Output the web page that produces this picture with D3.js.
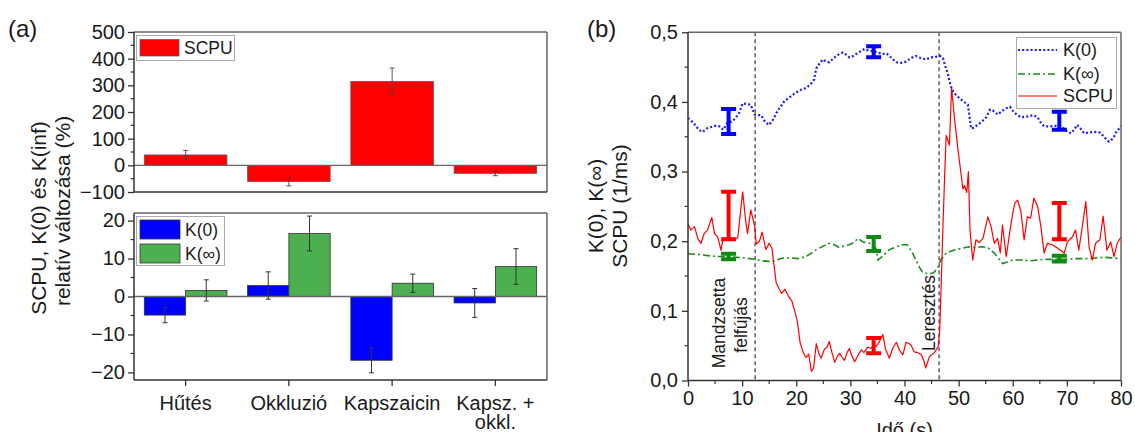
<!DOCTYPE html>
<html>
<head>
<meta charset="utf-8">
<script src="https://cdn.jsdelivr.net/npm/d3@7"></script>
<style>
  body { margin: 0; background: #fff; }
  svg { display: block; }
  text { font-family: "Liberation Sans", Arial, sans-serif; fill: #1a1a1a; }
</style>
</head>
<body>
<svg id="chart" width="1135" height="432"></svg>
<script>
// ---------- Panel (a): relative change per intervention ----------
const categories = ["Hűtés", "Okkluzió", "Kapszaicin", "Kapsz. + okkl."];
const categoryLines = [["Hűtés"], ["Okkluzió"], ["Kapszaicin"], ["Kapsz. +", "okkl."]];
const scpuChange = [39, -61, 315, -30];
const scpuErr = [17, 16, 50, 9];
const k0Change = [-4.9, 2.9, -16.8, -1.7];
const k0Err = [2.0, 3.6, 3.3, 3.8];
const kinfChange = [1.6, 16.6, 3.5, 7.9];
const kinfErr = [2.8, 4.6, 2.4, 4.7];
const topTicks = [-100, 0, 100, 200, 300, 400, 500];
const topMinor = [-50, 50, 150, 250, 350, 450];
const bottomTicks = [-20, -10, 0, 10, 20];
const bottomMinor = [-15, -5, 5, 15];

// ---------- Panel (b): time course ----------
const timeTicks = [0, 10, 20, 30, 40, 50, 60, 70, 80];
const timeMinor = [5, 15, 25, 35, 45, 55, 65, 75];
const rateTicks = [0, 0.1, 0.2, 0.3, 0.4, 0.5];
const rateMinor = [0.05, 0.15, 0.25, 0.35, 0.45];
const eventTimes = [12.4, 46.4];

const k0Series = [[0,0.377],[1,0.37],[2,0.36],[2.7,0.357],[3.5,0.362],[4.3,0.364],[5.2,0.366],[5.8,0.365],[6.5,0.36],[7.3,0.37],[8.2,0.372],[8.9,0.378],[9.5,0.385],[10.1,0.398],[10.8,0.397],[11.6,0.396],[12.3,0.382],[13.0,0.381],[13.5,0.381],[14.2,0.372],[14.9,0.367],[15.5,0.372],[15.9,0.377],[16.4,0.385],[16.9,0.391],[17.8,0.401],[18.5,0.405],[19.3,0.41],[20.3,0.415],[21.0,0.418],[21.8,0.42],[22.6,0.425],[23.3,0.432],[23.7,0.448],[24.3,0.455],[24.9,0.461],[25.5,0.458],[26.1,0.457],[26.8,0.462],[27.4,0.466],[28.0,0.469],[28.6,0.471],[29.2,0.468],[29.8,0.464],[30.5,0.466],[31.1,0.469],[31.9,0.473],[32.6,0.476],[33.3,0.474],[34.1,0.473],[35.0,0.471],[36.0,0.469],[36.6,0.47],[37.2,0.466],[37.9,0.461],[38.5,0.457],[39.5,0.456],[40.3,0.458],[41.2,0.463],[42.1,0.466],[43.0,0.463],[43.9,0.461],[44.9,0.464],[45.9,0.465],[46.6,0.466],[47.1,0.463],[47.6,0.45],[48.0,0.441],[48.3,0.43],[48.6,0.422],[49.0,0.415],[49.5,0.41],[50.2,0.405],[51.0,0.4],[51.7,0.396],[52.0,0.38],[52.3,0.362],[52.8,0.363],[53.5,0.367],[54.3,0.372],[55.1,0.378],[55.8,0.389],[56.3,0.388],[57.2,0.382],[58.0,0.387],[58.8,0.391],[59.5,0.393],[60.2,0.385],[60.9,0.381],[61.5,0.378],[62.7,0.379],[63.8,0.381],[64.6,0.378],[65.2,0.37],[65.8,0.365],[67.0,0.365],[68.4,0.366],[69.4,0.362],[70.1,0.357],[70.8,0.355],[71.5,0.362],[71.9,0.367],[72.5,0.362],[73.2,0.355],[74.0,0.356],[75.0,0.357],[76.1,0.356],[76.9,0.35],[77.4,0.345],[77.8,0.343],[78.3,0.346],[78.7,0.35],[79.2,0.358],[79.7,0.362],[80,0.366]];

const kinfSeries = [[0,0.182],[2,0.181],[4,0.179],[5.8,0.178],[7.3,0.178],[9,0.177],[10.5,0.176],[12.3,0.174],[13.5,0.172],[15,0.171],[16,0.172],[17.5,0.176],[19,0.176],[20.3,0.175],[21.8,0.178],[22.8,0.183],[23.7,0.188],[25,0.193],[26.1,0.197],[27,0.195],[27.9,0.191],[28.8,0.193],[29.8,0.195],[30.6,0.198],[31.4,0.204],[32.3,0.199],[33,0.198],[34,0.196],[34.7,0.19],[35.1,0.173],[36,0.179],[37.2,0.188],[38.5,0.192],[39.7,0.195],[40.5,0.195],[41.3,0.186],[42.1,0.173],[42.8,0.162],[43.3,0.156],[44,0.154],[44.6,0.153],[45.4,0.155],[46.1,0.161],[46.7,0.173],[47.7,0.183],[48.6,0.186],[49.5,0.188],[50.7,0.19],[51.9,0.192],[53,0.191],[54.4,0.192],[55.5,0.19],[56.6,0.183],[57.4,0.175],[58.1,0.168],[59,0.17],[60,0.173],[61.5,0.173],[63.3,0.172],[65.8,0.174],[67.5,0.174],[69.5,0.174],[71.5,0.175],[73.8,0.175],[75.5,0.176],[76.9,0.177],[78.5,0.176],[80,0.175]];

const scpuSeries = [[0,0.225],[0.5,0.216],[1.2,0.221],[1.8,0.204],[2.4,0.197],[3.0,0.211],[3.6,0.216],[4.4,0.234],[4.9,0.211],[5.5,0.206],[6.1,0.187],[6.5,0.205],[7.0,0.203],[7.6,0.207],[8.3,0.202],[9.2,0.205],[9.6,0.235],[10.1,0.271],[10.7,0.226],[11.0,0.211],[11.6,0.245],[12.3,0.222],[12.6,0.196],[13.2,0.2],[13.7,0.213],[14.4,0.188],[15.0,0.197],[15.5,0.19],[16.3,0.14],[16.8,0.132],[17.3,0.125],[17.9,0.131],[18.5,0.122],[19.2,0.114],[19.7,0.1],[20.2,0.085],[20.7,0.055],[21.3,0.04],[21.8,0.033],[22.3,0.038],[22.8,0.013],[23.2,0.018],[23.7,0.053],[24.2,0.038],[24.6,0.032],[25.2,0.045],[25.7,0.048],[26.1,0.056],[26.6,0.04],[27.1,0.026],[27.6,0.035],[28.0,0.039],[28.5,0.033],[28.9,0.029],[29.4,0.04],[29.8,0.046],[30.3,0.035],[30.8,0.027],[31.4,0.036],[32.0,0.044],[32.5,0.04],[33.2,0.048],[33.8,0.046],[34.3,0.05],[34.8,0.049],[35.3,0.055],[36.0,0.066],[36.5,0.045],[37.2,0.032],[37.8,0.046],[38.5,0.055],[39.1,0.043],[39.7,0.037],[40.3,0.055],[40.8,0.053],[41.2,0.051],[41.8,0.041],[42.5,0.04],[43.1,0.037],[43.6,0.028],[43.9,0.018],[44.3,0.027],[44.6,0.034],[45.5,0.04],[46.2,0.048],[46.5,0.07],[46.8,0.144],[47.1,0.22],[47.4,0.29],[47.7,0.352],[48.0,0.345],[48.3,0.338],[48.7,0.42],[49.2,0.379],[49.9,0.33],[50.5,0.293],[50.8,0.275],[51.1,0.28],[51.5,0.27],[51.8,0.3],[52.1,0.216],[52.6,0.173],[53.2,0.202],[53.8,0.198],[54.5,0.204],[55.4,0.235],[56.0,0.221],[56.6,0.197],[57.2,0.204],[57.7,0.183],[58.1,0.223],[58.8,0.178],[59.5,0.216],[60.0,0.24],[60.4,0.255],[60.9,0.259],[61.5,0.243],[62.1,0.202],[62.7,0.235],[63.3,0.233],[63.9,0.262],[64.6,0.25],[65.2,0.221],[65.8,0.183],[66.4,0.197],[67.3,0.195],[68.3,0.19],[69.5,0.183],[70.1,0.199],[71.0,0.206],[71.6,0.216],[72.2,0.187],[72.8,0.218],[73.5,0.257],[74.1,0.192],[74.7,0.173],[75.3,0.197],[76.1,0.202],[76.7,0.236],[77.4,0.187],[78.1,0.199],[78.7,0.178],[79.3,0.197],[80,0.206]];

// mean ± error markers at three moments
const markerTimes = [7.5, 34.3, 68.6];
const k0Marker = [0.372, 0.472, 0.373];
const k0MarkerErr = [0.018, 0.008, 0.013];
const kinfMarker = [0.178, 0.196, 0.175];
const kinfMarkerErr = [0.004, 0.010, 0.004];
const scpuMarker = [0.237, 0.050, 0.229];
const scpuMarkerErr = [0.034, 0.011, 0.026];

// ---------- styling ----------
const RED = "#ff0000", BLUE = "#0000ff", GREEN_BAR = "#4caf50", GREEN_LINE = "#1a8a1a";
const AXIS = "#333", FRAME = "#666";
const TICK_FONT = "20px", TITLE_FONT = "21px", LEGEND_FONT = "17.5px";
const svg = d3.select("#chart");

function styleAxis(g, fontSize) {
  g.select(".domain").remove();
  g.selectAll(".tick line").attr("stroke", AXIS).attr("stroke-width", 1.3);
  g.selectAll(".tick text").attr("font-size", fontSize).attr("fill", "#1a1a1a")
    .attr("font-family", '"Liberation Sans", Arial, sans-serif');
}
function frame(x0, x1, y0, y1) {
  svg.append("line").attr("x1", x0).attr("x2", x1).attr("y1", y0).attr("y2", y0).attr("stroke", FRAME).attr("stroke-width", 1.5);
  svg.append("line").attr("x1", x1).attr("x2", x1).attr("y1", y0).attr("y2", y1).attr("stroke", FRAME).attr("stroke-width", 1.5);
  svg.append("line").attr("x1", x0).attr("x2", x0).attr("y1", y0).attr("y2", y1).attr("stroke", AXIS).attr("stroke-width", 1.5);
  svg.append("line").attr("x1", x0).attr("x2", x1).attr("y1", y1).attr("y2", y1).attr("stroke", AXIS).attr("stroke-width", 1.5);
}
function minorLeft(scale, values, x) {
  svg.append("g").selectAll("line").data(values).join("line")
    .attr("x1", x - 3.5).attr("x2", x).attr("y1", d => scale(d)).attr("y2", d => scale(d))
    .attr("stroke", AXIS).attr("stroke-width", 1.2);
}
function minorBottom(scale, values, y) {
  svg.append("g").selectAll("line").data(values).join("line")
    .attr("x1", d => scale(d)).attr("x2", d => scale(d)).attr("y1", y).attr("y2", y + 3.5)
    .attr("stroke", AXIS).attr("stroke-width", 1.2);
}
function errorBars(data, color, capHalf, width) {
  svg.append("g").selectAll("path").data(data).join("path")
    .attr("d", d => `M${d.x - capHalf},${d.y0}H${d.x + capHalf}M${d.x},${d.y0}V${d.y1}M${d.x - capHalf},${d.y1}H${d.x + capHalf}`)
    .attr("stroke", color).attr("stroke-width", width).attr("fill", "none");
}

// ---------- Panel (a) ----------
const aLeft = 134, aRight = 547;
const xBand = d3.scaleBand().domain(categories).range([aLeft, aRight]).paddingInner(0.2).paddingOuter(0.1);
const xSub = d3.scaleBand().domain(["k0", "kinf"]).range([0, xBand.bandwidth()]);
const yTop = d3.scaleLinear().domain([-100, 500]).range([192, 32]);
const yBot = d3.scaleLinear().domain([-22, 22]).range([380, 213]);

// top: SCPU
svg.append("g").selectAll("rect").data(categories).join("rect")
  .attr("x", d => xBand(d)).attr("width", xBand.bandwidth())
  .attr("y", (d, i) => yTop(Math.max(0, scpuChange[i])))
  .attr("height", (d, i) => Math.abs(yTop(scpuChange[i]) - yTop(0)))
  .attr("fill", RED).attr("stroke", "#555").attr("stroke-width", 0.7);
svg.append("line").attr("x1", aLeft).attr("x2", aRight).attr("y1", yTop(0)).attr("y2", yTop(0)).attr("stroke", FRAME).attr("stroke-width", 1.3);
errorBars(categories.map((c, i) => ({ x: xBand(c) + xBand.bandwidth() / 2, y0: yTop(scpuChange[i] + scpuErr[i]), y1: yTop(scpuChange[i] - scpuErr[i]) })), "#444", 2.5, 0.9);
frame(aLeft, aRight, 32, 192);
styleAxis(svg.append("g").attr("transform", `translate(${aLeft},0)`)
  .call(d3.axisLeft(yTop).tickValues(topTicks).tickSize(6).tickPadding(3)), TICK_FONT);
minorLeft(yTop, topMinor, aLeft);

// bottom: K(0) and K(inf)
const kGroups = svg.append("g");
kGroups.selectAll("rect.k0").data(categories).join("rect").attr("class", "k0")
  .attr("x", d => xBand(d) + xSub("k0")).attr("width", xSub.bandwidth())
  .attr("y", (d, i) => yBot(Math.max(0, k0Change[i])))
  .attr("height", (d, i) => Math.abs(yBot(k0Change[i]) - yBot(0)))
  .attr("fill", BLUE).attr("stroke", "#333").attr("stroke-width", 0.8);
kGroups.selectAll("rect.kinf").data(categories).join("rect").attr("class", "kinf")
  .attr("x", d => xBand(d) + xSub("kinf")).attr("width", xSub.bandwidth())
  .attr("y", (d, i) => yBot(Math.max(0, kinfChange[i])))
  .attr("height", (d, i) => Math.abs(yBot(kinfChange[i]) - yBot(0)))
  .attr("fill", GREEN_BAR).attr("stroke", "#333").attr("stroke-width", 0.8);
svg.append("line").attr("x1", aLeft).attr("x2", aRight).attr("y1", yBot(0)).attr("y2", yBot(0)).attr("stroke", FRAME).attr("stroke-width", 1.3);
errorBars(categories.map((c, i) => ({ x: xBand(c) + xSub("k0") + xSub.bandwidth() / 2, y0: yBot(k0Change[i] + k0Err[i]), y1: yBot(k0Change[i] - k0Err[i]) })), "#333", 2.5, 1);
errorBars(categories.map((c, i) => ({ x: xBand(c) + xSub("kinf") + xSub.bandwidth() / 2, y0: yBot(kinfChange[i] + kinfErr[i]), y1: yBot(kinfChange[i] - kinfErr[i]) })), "#333", 2.5, 1);
frame(aLeft, aRight, 213, 380);
styleAxis(svg.append("g").attr("transform", `translate(${aLeft},0)`)
  .call(d3.axisLeft(yBot).tickValues(bottomTicks).tickSize(6).tickPadding(3)), TICK_FONT);
minorLeft(yBot, bottomMinor, aLeft);
const xAxisA = svg.append("g").attr("transform", "translate(0,380)")
  .call(d3.axisBottom(xBand).tickSize(6).tickFormat(""));
styleAxis(xAxisA, TICK_FONT);
svg.append("g").selectAll("text").data(categories).join("text")
  .attr("x", d => xBand(d) + xBand.bandwidth() / 2).attr("y", 410)
  .attr("text-anchor", "middle").attr("font-size", TICK_FONT)
  .selectAll("tspan").data((d, i) => categoryLines[i]).join("tspan")
  .attr("x", function () { return d3.select(this.parentNode).attr("x"); })
  .attr("dy", (d, j) => j === 0 ? 0 : 19).text(d => d);

// legends (a)
svg.append("rect").attr("x", 136.5).attr("y", 35.5).attr("width", 98).attr("height", 25).attr("fill", "#fff").attr("stroke", "#aaa");
svg.append("rect").attr("x", 140).attr("y", 39.5).attr("width", 39).attr("height", 16.5).attr("fill", RED).attr("stroke", "#555").attr("stroke-width", 0.7);
svg.append("text").attr("x", 184).attr("y", 54).attr("font-size", LEGEND_FONT).text("SCPU");
svg.append("rect").attr("x", 136.5).attr("y", 216.5).attr("width", 88).attr("height", 49).attr("fill", "#fff").attr("stroke", "#aaa");
const legA = [["K(0)", BLUE], ["K(\u221E)", GREEN_BAR]];
legA.forEach(([label, color], i) => {
  svg.append("rect").attr("x", 140).attr("y", 220 + i * 24).attr("width", 40).attr("height", 19)
    .attr("fill", color).attr("stroke", "#333").attr("stroke-width", 0.8);
  svg.append("text").attr("x", 185).attr("y", 236 + i * 24).attr("font-size", LEGEND_FONT).text(label);
});

// y title (a)
svg.append("text").attr("transform", "translate(46,218) rotate(-90)").attr("text-anchor", "middle")
  .attr("font-size", TITLE_FONT).text("SCPU, K(0) és K(inf)");
svg.append("text").attr("transform", "translate(70,211) rotate(-90)").attr("text-anchor", "middle")
  .attr("font-size", TITLE_FONT).text("relatív változása (%)");
svg.append("text").attr("x", 8).attr("y", 37).attr("font-size", "24px").text("(a)");

// ---------- Panel (b) ----------
const bLeft = 688, bRight = 1121, bTop = 32.3, bBottom = 380.5;
const xTime = d3.scaleLinear().domain([0, 80]).range([bLeft, bRight]);
const yRate = d3.scaleLinear().domain([0, 0.5]).range([bBottom, bTop]);
const commaFmt = d3.formatLocale({ decimal: ",", thousands: ".", grouping: [3], currency: ["", ""] }).format(".1f");
const line = d3.line().x(d => xTime(d[0])).y(d => yRate(d[1]));

eventTimes.forEach((t, i) => {
  svg.append("line").attr("x1", xTime(t)).attr("x2", xTime(t)).attr("y1", bTop).attr("y2", bBottom)
    .attr("stroke", i === 0 ? "#333" : "#777").attr("stroke-width", i === 0 ? 1.2 : 1.8)
    .attr("stroke-dasharray", "4,3");
});

svg.append("path").datum(kinfSeries).attr("d", line).attr("fill", "none")
  .attr("stroke", GREEN_LINE).attr("stroke-width", 1.6).attr("stroke-dasharray", "7,3,2,3");
svg.append("path").datum(scpuSeries).attr("d", line).attr("fill", "none")
  .attr("stroke", RED).attr("stroke-width", 1.2).attr("stroke-linejoin", "round");
svg.append("path").datum(k0Series).attr("d", line).attr("fill", "none")
  .attr("stroke", "#1a1aff").attr("stroke-width", 2.2).attr("stroke-dasharray", "2,2.2");

const markerSets = [[k0Marker, k0MarkerErr, BLUE], [kinfMarker, kinfMarkerErr, "#118a11"], [scpuMarker, scpuMarkerErr, RED]];
markerSets.forEach(([m, e, color]) => {
  errorBars(markerTimes.map((t, i) => ({ x: xTime(t), y0: yRate(m[i] + e[i]), y1: yRate(m[i] - e[i]) })), color, 7.5, 4);
});

// event labels
svg.append("text").attr("transform", "translate(719,323) rotate(-90)").attr("text-anchor", "middle")
  .attr("dominant-baseline", "central").attr("font-size", LEGEND_FONT).text("Mandzsetta");
svg.append("text").attr("transform", "translate(741,325) rotate(-90)").attr("text-anchor", "middle")
  .attr("dominant-baseline", "central").attr("font-size", LEGEND_FONT).text("felfújás");
svg.append("text").attr("transform", `translate(${xTime(46.4) - 10},313) rotate(-90)`).attr("text-anchor", "middle")
  .attr("dominant-baseline", "central").attr("font-size", LEGEND_FONT).text("Leresztés");

frame(bLeft, bRight, bTop, bBottom);
styleAxis(svg.append("g").attr("transform", `translate(${bLeft},0)`)
  .call(d3.axisLeft(yRate).tickValues(rateTicks).tickSize(6).tickPadding(4).tickFormat(commaFmt)), TICK_FONT);
minorLeft(yRate, rateMinor, bLeft);
styleAxis(svg.append("g").attr("transform", `translate(0,${bBottom})`)
  .call(d3.axisBottom(xTime).tickValues(timeTicks).tickSize(6).tickPadding(4).tickFormat(d3.format("d"))), TICK_FONT);
minorBottom(xTime, timeMinor, bBottom);

// legend (b)
svg.append("rect").attr("x", 1016.5).attr("y", 37.5).attr("width", 100).attr("height", 71).attr("fill", "#fff").attr("stroke", "#aaa");
const legB = [["K(0)", "#1a1aff", 2.2, "2,2.2", 50], ["K(\u221E)", GREEN_LINE, 1.6, "7,3,2,3", 74], ["SCPU", RED, 1.2, null, 96]];
legB.forEach(([label, color, w, dash, y]) => {
  const l = svg.append("line").attr("x1", 1018).attr("x2", 1057).attr("y1", y).attr("y2", y)
    .attr("stroke", color).attr("stroke-width", w);
  if (dash) l.attr("stroke-dasharray", dash);
  svg.append("text").attr("x", 1063).attr("y", y + 6).attr("font-size", "18px").text(label);
});

// titles (b)
svg.append("text").attr("transform", "translate(603,206) rotate(-90)").attr("text-anchor", "middle")
  .attr("font-size", TITLE_FONT).text("K(0), K(\u221E)");
svg.append("text").attr("transform", "translate(627,206) rotate(-90)").attr("text-anchor", "middle")
  .attr("font-size", TITLE_FONT).text("SCPU (1/ms)");
svg.append("text").attr("x", xTime(40)).attr("y", 437).attr("text-anchor", "middle")
  .attr("font-size", "20px").text("Idő (s)");
svg.append("text").attr("x", 587).attr("y", 37).attr("font-size", "24px").text("(b)");
</script>
</body>
</html>
